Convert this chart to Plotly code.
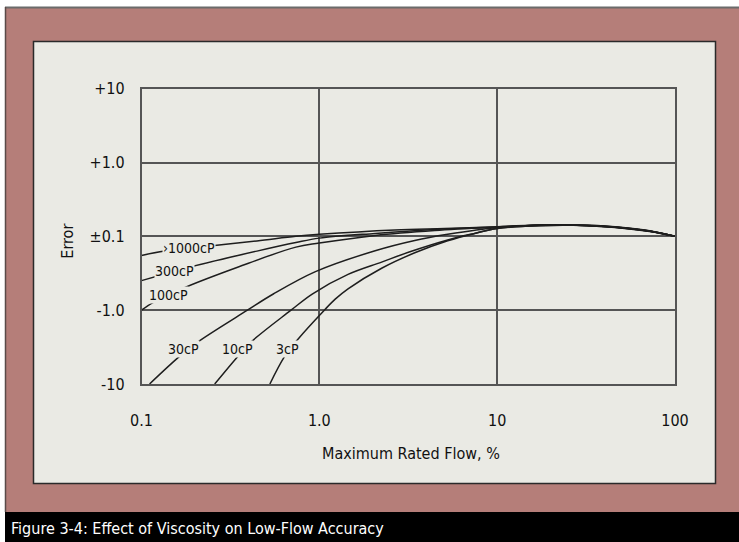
import numpy as np
import plotly.graph_objects as go

W, H = 739, 542

# ---------------- data ----------------
y_tickvals = [-2, -1, 0, 1, 2]
y_ticktext = ["-10", "-1.0", "±0.1", "+1.0", "+10"]
x_tickvals = [0.1, 1, 10, 100]
x_ticktext = ["0.1", "1.0", "10", "100"]

names = ["›1000cP", "300cP", "100cP", "30cP", "10cP", "3cP"]

flow_1000 = [0.1, 0.135, 0.243, 0.446, 0.738, 1.0, 2.66, 5.07, 10, 18.8, 32, 46, 72, 100]
err_1000 = [-0.26, -0.20, -0.13, -0.063, 0.0, 0.027, 0.087, 0.107, 0.13, 0.158, 0.145, 0.12, 0.065, 0.0]

flow_300 = [0.1, 0.153, 0.192, 0.446, 0.738, 1.0, 2.06, 4.46, 10, 18.8, 32, 46, 72, 100]
err_300 = [-0.60, -0.474, -0.409, -0.20, -0.084, -0.024, 0.04, 0.093, 0.127, 0.155, 0.145, 0.122, 0.068, 0.0]

flow_100 = [0.1, 0.116, 0.1415, 0.177, 0.347, 0.738, 1.0, 2.06, 4.46, 10, 18.8, 32, 46, 72, 100]
err_100 = [-1.0, -0.897, -0.795, -0.688, -0.418, -0.146, -0.091, 0.013, 0.08, 0.125, 0.153, 0.147, 0.124, 0.07, 0.0]

flow_30 = [0.111, 0.163, 0.205, 0.394, 0.551, 0.951, 2.06, 3.44, 5.27, 10, 18.8, 32, 46, 72, 100]
err_30 = [-2.0, -1.63, -1.438, -1.0, -0.781, -0.478, -0.195, -0.056, 0.027, 0.12, 0.152, 0.148, 0.126, 0.072, 0.0]

flow_10 = [0.258, 0.347, 0.41, 0.693, 0.912, 1.45, 2.24, 3.23, 5.27, 7.46, 10, 18.8, 32, 46, 72, 100]
err_10 = [-2.0, -1.63, -1.438, -1.0, -0.781, -0.516, -0.349, -0.209, -0.049, 0.04, 0.107, 0.15, 0.15, 0.128, 0.074, 0.0]

flow_3 = [0.527, 0.637, 0.756, 1.067, 1.228, 1.45, 2.24, 3.44, 5.27, 7.46, 10, 18.8, 32, 46, 72, 100]
err_3 = [-2.0, -1.63, -1.396, -1.0, -0.851, -0.711, -0.432, -0.223, -0.06, 0.04, 0.107, 0.145, 0.152, 0.13, 0.076, 0.0]

label_flow = [0.185, 0.153, 0.1415, 0.173, 0.347, 0.665]
label_err = [-0.163, -0.47, -0.795, -1.524, -1.524, -1.524]

caption = "Figure 3-4: Effect of Viscosity on Low-Flow Accuracy"
x_title = "Maximum Rated Flow, %"
y_title = "Error"

# ---------------- style ----------------
FONT = "Liberation Sans Narrow, DejaVu Sans Condensed, Arial Narrow, sans-serif"
PINK = "#b57e79"
PANEL = "#eaeae4"
GRID = "#555555"
LINE = "#1e1e1e"


def px(x):
    return x / W


def py(y):
    return 1 - y / H


fig = go.Figure()
series = [(flow_1000, err_1000), (flow_300, err_300), (flow_100, err_100),
          (flow_30, err_30), (flow_10, err_10), (flow_3, err_3)]
for nm, (fx, ey) in zip(names, series):
    fig.add_trace(go.Scatter(x=fx, y=ey, mode="lines", name=nm,
                             line=dict(color=LINE, width=1.5, shape="spline", smoothing=1.0),
                             showlegend=False, hoverinfo="skip"))

shapes = [
    # pink frame
    dict(type="rect", xref="paper", yref="paper", x0=px(5), x1=1.0, y0=py(512), y1=py(7),
         fillcolor=PINK, line=dict(width=0), layer="below"),
    dict(type="line", xref="paper", yref="paper", x0=px(5), x1=1.0, y0=py(7.5), y1=py(7.5),
         line=dict(color="#6b6b6b", width=2), layer="below"),
    dict(type="line", xref="paper", yref="paper", x0=px(5.5), x1=px(5.5), y0=py(512), y1=py(7),
         line=dict(color="#5a4a48", width=1.5), layer="below"),
    # black caption band
    dict(type="rect", xref="paper", yref="paper", x0=px(5), x1=1.0, y0=0, y1=py(512),
         fillcolor="#000000", line=dict(width=0), layer="below"),
    # inner panel
    dict(type="rect", xref="paper", yref="paper", x0=px(33.5), x1=px(715.5), y0=py(483.5), y1=py(41.5),
         fillcolor=PANEL, line=dict(color="#2a2a2a", width=1.5), layer="below"),
]

annotations = []
for nm, lx, ly in zip(names, label_flow, label_err):
    annotations.append(dict(x=np.log10(lx), y=ly, xref="x", yref="y", text=nm, showarrow=False,
                            font=dict(family=FONT, size=14, color="#111"),
                            bgcolor=PANEL, borderpad=0, xanchor="center", yanchor="middle"))

annotations += [
    dict(x=px(8.5), y=py(528), xref="paper", yref="paper", text=caption, showarrow=False,
         xanchor="left", yanchor="middle", font=dict(family=FONT, size=16, color="#ffffff")),
    dict(x=px(411), y=py(453.5), xref="paper", yref="paper", text=x_title, showarrow=False,
         xanchor="center", yanchor="middle", font=dict(family=FONT, size=16, color="#111")),
    dict(x=px(68), y=py(241.7), xref="paper", yref="paper", text=y_title, showarrow=False,
         textangle=-90, xanchor="center", yanchor="middle", font=dict(family=FONT, size=16, color="#111")),
]

fig.update_layout(
    width=W, height=H,
    autosize=False,
    margin=dict(l=0, r=0, t=0, b=0, pad=0, autoexpand=False),
    paper_bgcolor="#ffffff",
    plot_bgcolor="rgba(0,0,0,0)",
    shapes=shapes,
    annotations=annotations,
    showlegend=False,
    xaxis=dict(type="log", range=[-1, 2], domain=[141.5 / W, 675 / W], automargin=False,
               tickvals=x_tickvals, ticktext=x_ticktext,
               showgrid=True, gridcolor=GRID, gridwidth=1.5,
               showline=True, linecolor=GRID, linewidth=1.5, mirror=True,
               ticks="outside", ticklen=21, tickcolor="rgba(0,0,0,0)",
               zeroline=False, tickfont=dict(family=FONT, size=16, color="#111")),
    yaxis=dict(range=[-2, 2], domain=[1 - 384 / H, 1 - 88.7 / H], automargin=False,
               tickvals=y_tickvals, ticktext=y_ticktext,
               showgrid=True, gridcolor=GRID, gridwidth=1.5,
               showline=True, linecolor=GRID, linewidth=1.5, mirror=True,
               ticks="outside", ticklen=12, tickcolor="rgba(0,0,0,0)",
               zeroline=False, tickfont=dict(family=FONT, size=16, color="#111")),
)

post = ("document.documentElement.style.margin='0';"
        "document.documentElement.style.overflow='hidden';"
        "document.body.style.margin='0';"
        "document.body.style.overflow='hidden';")

fig.write_html("out.html", post_script=post, config={"displayModeBar": False})
